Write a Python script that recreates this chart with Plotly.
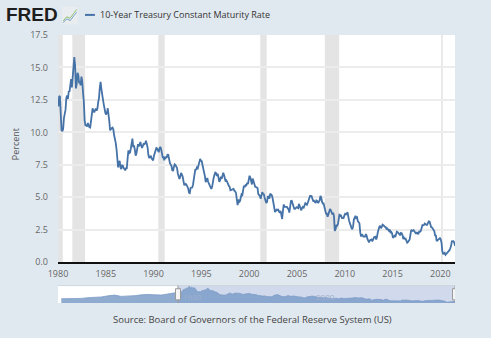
import pandas as pd
import plotly.graph_objects as go

# 10-Year Treasury constant maturity rate, monthly, percent
rate_1980s = [
    12.0, 12.8, 12.75, 11.47, 10.18, 10.1, 10.25, 11.10, 11.51, 11.75, 12.68, 12.84,
    12.57, 13.19, 13.12, 13.68, 14.10, 13.47, 14.28, 14.94, 15.80, 15.15, 13.39, 13.72,
    14.59, 14.43, 13.86, 13.87, 13.62, 14.30, 13.95, 13.06, 12.34, 10.91, 10.55, 10.54,
    10.46, 10.72, 10.51, 10.40, 10.38, 10.85, 11.38, 11.85, 11.65, 11.54, 11.69, 11.83,
    11.67, 11.84, 12.32, 12.63, 13.41, 13.90, 13.36, 12.72, 12.52, 12.16, 11.57, 11.50,
    11.38, 11.51, 11.86, 11.43, 10.85, 10.16, 10.31, 10.33, 10.37, 10.24, 9.78, 9.26,
    9.19, 8.70, 7.78, 7.30, 7.71, 7.80, 7.30, 7.17, 7.45, 7.43, 7.25, 7.11,
    7.08, 7.25, 7.25, 8.02, 8.61, 8.40, 8.45, 8.76, 9.42, 9.52, 8.86, 8.99,
    8.67, 8.21, 8.37, 8.72, 9.09, 8.92, 9.06, 9.26, 8.98, 8.80, 8.96, 9.11,
    9.09, 9.17, 9.36, 9.18, 8.86, 8.28, 8.02, 8.11, 8.19, 8.01, 7.87, 7.84,
]
rate_1990s = [
    8.21, 8.47, 8.59, 8.79, 8.76, 8.48, 8.47, 8.75, 8.89, 8.72, 8.39, 8.08,
    8.09, 7.85, 8.11, 8.04, 8.07, 8.28, 8.27, 7.90, 7.65, 7.53, 7.42, 7.09,
    7.03, 7.34, 7.54, 7.48, 7.39, 7.26, 6.84, 6.59, 6.42, 6.59, 6.87, 6.77,
    6.60, 6.26, 5.98, 5.97, 6.04, 5.96, 5.81, 5.68, 5.36, 5.33, 5.72, 5.77,
    5.75, 5.97, 6.48, 6.97, 7.18, 7.10, 7.30, 7.24, 7.46, 7.74, 7.96, 7.81,
    7.78, 7.47, 7.20, 7.06, 6.63, 6.17, 6.28, 6.49, 6.20, 6.04, 5.93, 5.71,
    5.65, 5.81, 6.27, 6.51, 6.74, 6.91, 6.87, 6.64, 6.83, 6.53, 6.20, 6.30,
    6.58, 6.42, 6.69, 6.89, 6.71, 6.49, 6.22, 6.30, 6.21, 6.03, 5.88, 5.81,
    5.54, 5.57, 5.65, 5.64, 5.65, 5.50, 5.46, 5.34, 4.81, 4.40, 4.83, 4.65,
    4.72, 5.00, 5.23, 5.18, 5.54, 5.90, 5.79, 5.94, 5.92, 6.11, 6.03, 6.28,
]
rate_2000s = [
    6.66, 6.52, 6.26, 5.99, 6.44, 6.10, 6.05, 5.83, 5.80, 5.74, 5.72, 5.24,
    5.16, 5.10, 4.89, 5.14, 5.39, 5.28, 5.24, 4.97, 4.73, 4.57, 4.65, 5.09,
    5.04, 4.91, 5.28, 5.21, 5.16, 4.93, 4.65, 4.26, 3.87, 3.94, 4.05, 4.03,
    4.05, 3.90, 3.81, 3.96, 3.57, 3.33, 3.98, 4.45, 4.27, 4.29, 4.30, 4.27,
    4.15, 4.08, 3.83, 4.35, 4.72, 4.73, 4.50, 4.28, 4.13, 4.10, 4.19, 4.23,
    4.22, 4.17, 4.50, 4.34, 4.14, 4.00, 4.18, 4.26, 4.20, 4.46, 4.54, 4.47,
    4.42, 4.57, 4.72, 4.99, 5.11, 5.11, 5.09, 4.88, 4.72, 4.73, 4.60, 4.56,
    4.76, 4.72, 4.56, 4.69, 4.75, 5.10, 5.00, 4.67, 4.52, 4.53, 4.15, 4.10,
    3.74, 3.74, 3.51, 3.68, 3.88, 4.10, 4.01, 3.89, 3.69, 3.81, 3.53, 2.42,
    2.52, 2.87, 2.82, 2.93, 3.29, 3.72, 3.56, 3.59, 3.40, 3.39, 3.40, 3.59,
]
rate_2010s = [
    3.73, 3.69, 3.73, 3.85, 3.42, 3.20, 3.01, 2.70, 2.65, 2.54, 2.76, 3.29,
    3.39, 3.58, 3.41, 3.46, 3.17, 3.00, 3.00, 2.30, 1.98, 2.15, 2.01, 1.98,
    1.97, 1.97, 2.17, 2.05, 1.80, 1.62, 1.53, 1.68, 1.72, 1.75, 1.65, 1.72,
    1.91, 1.98, 1.96, 1.76, 1.93, 2.30, 2.58, 2.74, 2.81, 2.62, 2.72, 2.90,
    2.86, 2.71, 2.72, 2.71, 2.56, 2.60, 2.54, 2.42, 2.53, 2.30, 2.33, 2.21,
    1.88, 1.98, 2.04, 1.94, 2.20, 2.36, 2.32, 2.17, 2.17, 2.07, 2.26, 2.24,
    2.09, 1.78, 1.89, 1.81, 1.81, 1.64, 1.50, 1.56, 1.63, 1.76, 2.14, 2.49,
    2.43, 2.42, 2.48, 2.30, 2.30, 2.19, 2.32, 2.21, 2.20, 2.36, 2.35, 2.40,
    2.58, 2.86, 2.84, 2.87, 2.98, 2.91, 2.89, 2.89, 3.00, 3.15, 3.12, 2.83,
    2.71, 2.68, 2.57, 2.53, 2.40, 2.07, 2.06, 1.63, 1.70, 1.71, 1.81, 1.86,
]
rate_2020s = [
    1.76, 1.50, 0.87, 0.66, 0.67, 0.73, 0.58, 0.65, 0.68, 0.79, 0.87, 0.93,
    1.08, 1.26, 1.61, 1.64, 1.62, 1.52, 1.26,
]
# annual averages before the main window (navigator only)
rate_1962_1979 = [3.95, 4.00, 4.19, 4.28, 4.93, 5.07, 5.64, 6.67, 7.35,
                  6.16, 6.21, 6.85, 7.56, 7.99, 7.61, 7.42, 8.41, 9.43]

recession_start = ["1980-01-01", "1981-07-01", "1990-07-01", "2001-03-01", "2007-12-01", "2020-02-01"]
recession_end = ["1980-07-01", "1982-11-01", "1991-03-01", "2001-11-01", "2009-06-01", "2020-04-01"]

y_ticks = [0.0, 2.5, 5.0, 7.5, 10.0, 12.5, 15.0, 17.5]
nav_label_dates = ["1980-01-01", "2000-01-01"]
nav_label_text = ["1980", "2000"]

monthly = rate_1980s + rate_1990s + rate_2000s + rate_2010s + rate_2020s
monthly_dates = pd.date_range("1980-01-01", periods=len(monthly), freq="MS") + pd.Timedelta(days=14)
annual_dates = pd.date_range("1962-01-01", periods=len(rate_1962_1979), freq="YS") + pd.Timedelta(days=182)

nav_dates = list(annual_dates) + list(monthly_dates)
nav_values = rate_1962_1979 + monthly

LINE = "#4572a7"
BG = "#e1e9f0"
FONT = "Open Sans"
x_start, x_end = "1980-01-01", "2021-07-14"
nav_start = "1962-01-02"

fig = go.Figure()
fig.add_trace(go.Scatter(x=monthly_dates, y=monthly, mode="lines",
                         line=dict(color=LINE, width=1.8), xaxis="x", yaxis="y",
                         showlegend=False, hoverinfo="x+y"))
fig.add_trace(go.Scatter(x=nav_dates, y=nav_values, mode="lines", fill="tozeroy",
                         line=dict(color="#7d9cc8", width=0.8), fillcolor="rgba(125,156,200,0.85)",
                         xaxis="x2", yaxis="y2", showlegend=False, hoverinfo="skip"))

shapes = []
for s, e in zip(recession_start, recession_end):
    shapes.append(dict(type="rect", xref="x", yref="y domain", x0=s, x1=e, y0=0, y1=1,
                       fillcolor="#e4e4e4", line_width=0, layer="below"))
# navigator: selected window highlight and handles
shapes.append(dict(type="rect", xref="x2", yref="y2 domain", x0=x_start, x1=x_end, y0=0, y1=1,
                   fillcolor="rgba(102,133,194,0.3)", line_width=0, layer="below"))
shapes.append(dict(type="line", xref="x2", yref="y2 domain", x0=nav_start, x1=x_end, y0=1, y1=1,
                   line=dict(color="#cfd6dd", width=1)))
for hx in [x_start, x_end]:
    shapes.append(dict(type="line", xref="x2", yref="y2 domain", x0=hx, x1=hx, y0=0, y1=1,
                       line=dict(color="#999999", width=1)))
    shapes.append(dict(type="rect", xref="x2", yref="y2 domain", xsizemode="pixel", xanchor=hx,
                       x0=-2.5, x1=2.5, y0=0.18, y1=0.82,
                       fillcolor="#f4f4f4", line=dict(color="#999999", width=1)))
# header: legend swatch and small logo icon
shapes.append(dict(type="line", xref="paper", yref="paper", x0=0.068, x1=0.093, y0=1.075, y1=1.075,
                   line=dict(color=LINE, width=2)))
shapes.append(dict(type="rect", xref="paper", yref="paper", x0=0.010, x1=0.050, y0=1.04, y1=1.105,
                   fillcolor="#e9edf0", line_width=0))
shapes.append(dict(type="path", xref="paper", yref="paper",
                   path="M 0.013,1.052 L 0.022,1.068 L 0.030,1.062 L 0.039,1.08 L 0.047,1.095",
                   line=dict(color="#8fbf6a", width=1)))
shapes.append(dict(type="path", xref="paper", yref="paper",
                   path="M 0.013,1.046 L 0.022,1.06 L 0.031,1.054 L 0.040,1.072 L 0.047,1.085",
                   line=dict(color="#7aa0cc", width=1)))

annotations = [
    dict(text="FRED", x=-0.135, y=1.075, xref="paper", yref="paper", xanchor="left", yanchor="middle",
         showarrow=False, font=dict(family="Liberation Sans", size=19, color="#1e1e1e", weight=900)),
    dict(text="10-Year Treasury Constant Maturity Rate", x=0.1, y=1.075, xref="paper", yref="paper",
         xanchor="left", yanchor="middle", showarrow=False,
         font=dict(family=FONT, size=9, color="#333333")),
    dict(text="Source: Board of Governors of the Federal Reserve System (US)", x=0.49, y=-0.063,
         xref="paper", yref="paper", xanchor="center", yanchor="middle", showarrow=False,
         font=dict(family=FONT, size=9.5, color="#444444")),
    dict(text="Percent", x=-0.108, y=0.593, xref="paper", yref="paper", textangle=-90,
         xanchor="center", yanchor="middle", showarrow=False,
         font=dict(family=FONT, size=9, color="#555555")),
]
for d, t in zip(nav_label_dates, nav_label_text):
    annotations.append(dict(text=t, x=d, y=0.35, xref="x2", yref="y2 domain", xanchor="left",
                            yanchor="middle", xshift=3, showarrow=False,
                            font=dict(family=FONT, size=8, color="#9fb0cc")))

fig.update_layout(
    width=491, height=338,
    margin=dict(l=58, r=36, t=35, b=35),
    paper_bgcolor=BG, plot_bgcolor="white",
    font=dict(family=FONT, size=9, color="#666666"),
    shapes=shapes, annotations=annotations,
    xaxis=dict(type="date", range=[x_start, x_end], domain=[0, 1], anchor="y",
               tickformat="%Y", dtick="M60", tick0="1980-01-01", showgrid=False,
               showline=True, linecolor="#111111", linewidth=2, ticks="", zeroline=False,
               ticklabelstandoff=2,
               tickfont=dict(size=9, color="#666666"), fixedrange=True),
    yaxis=dict(range=[0, 17.5], domain=[0.152, 1], anchor="x", tickvals=y_ticks,
               ticktext=[f"{v:.1f}" for v in y_ticks], showgrid=True, gridcolor="#ececec",
               gridwidth=1.5, zeroline=False, showline=False, ticks="",
               ticklabelstandoff=9,
               tickfont=dict(size=9, color="#666666"), fixedrange=True),
    xaxis2=dict(type="date", range=[nav_start, x_end], domain=[0, 1], anchor="y2",
                showticklabels=False, showgrid=False, zeroline=False, showline=False,
                ticks="", fixedrange=True),
    yaxis2=dict(range=[0, 16.2], domain=[0, 0.065], anchor="x2", showticklabels=False,
                showgrid=False, zeroline=False, showline=False, fixedrange=True),
)

fig.write_html("out.html")
